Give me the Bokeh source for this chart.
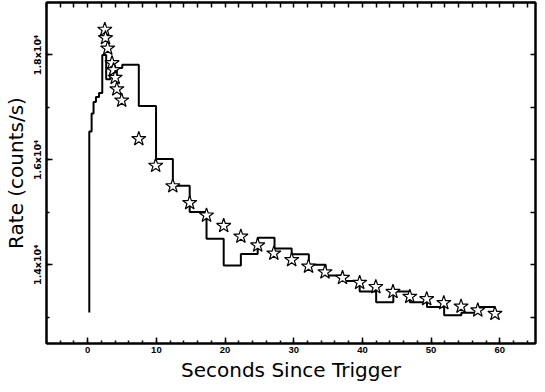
from bokeh.plotting import figure
from bokeh.models import LinearAxis, SingleIntervalTicker, FixedTicker, Range1d
from bokeh.embed import file_html
from bokeh.resources import INLINE

# Step (histogram) light curve: bin left edges and rates
step_x = [0.23, 0.23, 0.57, 0.85, 1.2, 1.65, 2.12, 2.69, 3.3, 4.24, 5.03,
          7.44, 9.95, 12.4, 14.85, 17.3, 19.8, 22.3, 24.75, 27.2, 29.7,
          32.2, 34.65, 37.1, 39.6, 42.0, 44.5, 46.9, 49.4, 51.9, 54.4,
          56.8, 59.3]
step_y = [13090, 16543, 16884, 17101, 17200, 17275, 18000, 17535, 17660, 17753, 17814,
          17027, 16017, 15507, 15005, 14497, 13989, 14205, 14515, 14311, 14199,
          14000, 13795, 13691, 13492, 13287, 13492, 13287, 13194, 13040, 13088,
          13194, 13194]

# Star points
star_x = [2.49, 2.59, 2.91, 3.54, 3.76, 4.0, 4.24, 4.95, 7.44, 9.9, 12.39, 14.85,
          17.3, 19.8, 22.3, 24.75, 27.1, 29.7, 32.15, 34.55, 37.1, 39.6, 41.95,
          44.45, 46.9, 49.36, 51.85, 54.36, 56.8, 59.3]
star_y = [18484, 18324, 18125, 17846, 17715, 17567, 17349, 17133, 16400, 15892,
          15501, 15180, 14943, 14744, 14540, 14372, 14218, 14093, 13970, 13859,
          13753, 13660, 13580, 13486, 13393, 13349, 13274, 13207, 13133, 13070]

y_tick_values = [14000, 16000, 18000]
y_tick_labels = ["1.4x10\u2074", "1.6x10\u2074", "1.8x10\u2074"]

p = figure(width=537, height=384, output_backend="svg", toolbar_location=None,
           x_range=Range1d(-6, 65.2), y_range=Range1d(12500, 19000),
           min_border_left=0, min_border_right=2, min_border_top=2, min_border_bottom=0,
           x_axis_label="Seconds Since Trigger", y_axis_label="Rate (counts/s)")
p.xgrid.visible = False
p.ygrid.visible = False
p.outline_line_color = "black"
p.outline_line_width = 2
p.background_fill_color = "white"
p.border_fill_color = "white"

p.xaxis.ticker = SingleIntervalTicker(interval=10, num_minor_ticks=5)
p.yaxis.ticker = SingleIntervalTicker(interval=2000, num_minor_ticks=2)
p.yaxis.major_label_overrides = dict(zip(y_tick_values, y_tick_labels))
p.yaxis.major_label_orientation = "vertical"

for ax in [p.xaxis[0], p.yaxis[0]]:
    ax.axis_line_width = 2
    ax.axis_line_color = "black"
    ax.major_tick_line_color = "black"
    ax.minor_tick_line_color = "black"
    ax.major_tick_in = 6
    ax.major_tick_out = 0
    ax.minor_tick_in = 3
    ax.minor_tick_out = 0
    ax.major_tick_line_width = 1.5
    ax.minor_tick_line_width = 1.5
    ax.major_label_text_color = "black"
    ax.major_label_text_font_style = "bold"
    ax.major_label_standoff = 3
    ax.axis_label_text_color = "black"
    ax.axis_label_text_font = "DejaVu Sans"
    ax.axis_label_text_font_style = "normal"
    ax.axis_label_text_font_size = "20px"
    ax.axis_label_standoff = 2

p.xaxis.major_label_text_font = "Liberation Sans"
p.xaxis.major_label_text_font_size = "9.5px"
p.yaxis.major_label_text_font = "DejaVu Sans"
p.yaxis.major_label_text_font_size = "9.5px"

# Top and right axes: ticks only (drawn as minor ticks, so no labels take space)
top = LinearAxis(ticker=FixedTicker(ticks=[], minor_ticks=list(range(-6, 66, 2))))
right = LinearAxis(ticker=FixedTicker(ticks=[], minor_ticks=list(range(13000, 19001, 1000))))
for ax in [top, right]:
    ax.axis_line_width = 2
    ax.axis_line_color = "black"
    ax.minor_tick_line_color = "black"
    ax.minor_tick_in = 5
    ax.minor_tick_out = 0
    ax.minor_tick_line_width = 1.5
    ax.major_tick_in = 0
    ax.major_tick_out = 0
    ax.major_label_standoff = 0
    ax.axis_label_standoff = 0
p.add_layout(top, "above")
p.add_layout(right, "right")

p.step(step_x, step_y, mode="after", line_color="black", line_width=2)
p.scatter(star_x, star_y, marker="star", size=15, fill_color="white",
          line_color="black", line_width=1.2)

open("out.html", "w").write(file_html(p, INLINE))
